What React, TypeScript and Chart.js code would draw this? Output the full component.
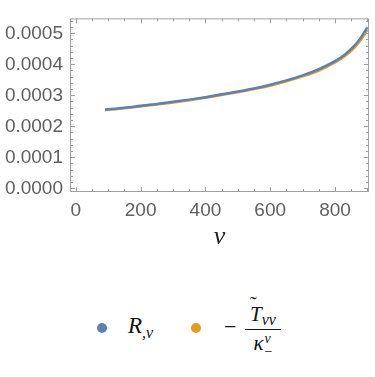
import React, { useEffect, useRef } from "react";
import { Chart, registerables } from "chart.js";
Chart.register(...registerables);

const vValues = [90, 150, 200, 250, 300, 350, 400, 450, 500, 550, 600, 650, 700, 750, 800, 830, 860, 880, 900];
const rValues = [0.000254, 0.00026, 0.000266, 0.000272, 0.000279, 0.000286, 0.000294, 0.000303, 0.000312, 0.000322, 0.000334, 0.000348, 0.000364, 0.000384, 0.00041, 0.000431, 0.00046, 0.000486, 0.00052];
const tValues = [0.000252, 0.000258, 0.000264, 0.00027, 0.000277, 0.000284, 0.000292, 0.000301, 0.00031, 0.00032, 0.000331, 0.000345, 0.000361, 0.00038, 0.000406, 0.000426, 0.000454, 0.000479, 0.000511];
const xTickStep = 200;
const xMinorStep = 50;
const yTickStep = 0.0001;
const yMinorStep = 0.00002;

const BLUE = "#5E81B5";
const ORANGE = "#E19C24";
const FRAME = "#a0a0a0";
const TEXT = "#606060";

const framePlugin = {
  id: "frame",
  afterDraw(chart: any) {
    const { ctx, chartArea } = chart;
    const { left, right, top, bottom } = chartArea;
    const xs = chart.scales.x;
    const ys = chart.scales.y;
    ctx.save();
    ctx.strokeStyle = FRAME;
    ctx.lineWidth = 1;
    ctx.strokeRect(left + 0.5, top + 0.5, right - left - 1, bottom - top - 1);
    ctx.beginPath();
    const startX = Math.ceil(xs.min / xMinorStep) * xMinorStep;
    for (let v = startX; v <= xs.max; v += xMinorStep) {
      const px = Math.round(xs.getPixelForValue(v)) + 0.5;
      const major = Math.abs(v % xTickStep) < 1e-9;
      const len = major ? 5 : 3;
      ctx.moveTo(px, bottom);
      ctx.lineTo(px, bottom - len);
      ctx.moveTo(px, top);
      ctx.lineTo(px, top + len);
    }
    const startY = Math.ceil(ys.min / yMinorStep - 1e-9) * yMinorStep;
    for (let i = 0; ; i++) {
      const v = startY + i * yMinorStep;
      if (v > ys.max) break;
      const py = Math.round(ys.getPixelForValue(v)) + 0.5;
      const ratio = v / yTickStep;
      const major = Math.abs(ratio - Math.round(ratio)) < 1e-6;
      const len = major ? 5 : 3;
      ctx.moveTo(left, py);
      ctx.lineTo(left + len, py);
      ctx.moveTo(right, py);
      ctx.lineTo(right - len, py);
    }
    ctx.stroke();
    ctx.restore();
  },
};

export default function App() {
  const ref = useRef<HTMLCanvasElement>(null);
  useEffect(() => {
    if (!ref.current) return;
    const chart = new Chart(ref.current, {
      type: "line",
      data: {
        datasets: [
          {
            label: "R",
            data: vValues.map((v, i) => ({ x: v, y: rValues[i] })),
            borderColor: BLUE,
            borderWidth: 2.5,
            pointRadius: 0,
            cubicInterpolationMode: "monotone",
          },
          {
            label: "T",
            data: vValues.map((v, i) => ({ x: v, y: tValues[i] })),
            borderColor: ORANGE,
            borderWidth: 2.5,
            pointRadius: 0,
            cubicInterpolationMode: "monotone",
          },
        ],
      },
      options: {
        animation: false,
        responsive: false,
        maintainAspectRatio: false,
        layout: { padding: { top: 4, right: 6, left: 0, bottom: 0 } },
        plugins: { legend: { display: false }, tooltip: { enabled: false } },
        scales: {
          x: {
            type: "linear",
            min: -18,
            max: 905,
            grid: { drawOnChartArea: false, drawTicks: false },
            border: { display: false },
            ticks: {
              stepSize: xTickStep,
              includeBounds: false,
              maxRotation: 0,
              padding: 7,
              color: TEXT,
              font: { size: 19, family: "'Liberation Sans', Arial, sans-serif" },
              callback: (v: any) => String(Math.round(Number(v))),
            },
            title: {
              display: true,
              text: "v",
              color: "#222",
              font: { size: 26, family: "'Liberation Serif', serif", style: "italic" },
              padding: { top: 0, bottom: 9 },
            },
            afterFit: (s: any) => {
              s.height = 70;
            },
          },
          y: {
            type: "linear",
            min: -0.000012,
            max: 0.000548,
            grid: { drawOnChartArea: false, drawTicks: false },
            border: { display: false },
            ticks: {
              stepSize: yTickStep,
              includeBounds: false,
              padding: 7,
              color: TEXT,
              font: { size: 19, family: "'Liberation Sans', Arial, sans-serif" },
              callback: (v: any) => Number(v).toFixed(4),
            },
            afterFit: (s: any) => {
              s.width = 70;
            },
          },
        },
      },
      plugins: [framePlugin],
    } as any);
    return () => chart.destroy();
  }, []);

  const serif = "'Liberation Serif', 'DejaVu Serif', serif";
  const dot = (c: string, x: number) => (
    <div
      style={{
        position: "absolute",
        left: x - 5,
        top: 323,
        width: 10,
        height: 10,
        borderRadius: "50%",
        background: c,
      }}
    />
  );

  return (
    <div style={{ position: "fixed", left: 0, top: 0, width: 375, height: 377, background: "#fff", overflow: "hidden" }}>
      <canvas ref={ref} width={375} height={262} style={{ display: "block", width: 375, height: 262 }} />
      {dot(BLUE, 102)}
      <div style={{ position: "absolute", left: 128, top: 313, fontFamily: serif, fontSize: 23, fontStyle: "italic", color: "#111", lineHeight: "26px", whiteSpace: "nowrap" }}>
        R<span style={{ fontSize: 16, position: "relative", top: 5 }}>,v</span>
      </div>
      {dot(ORANGE, 196)}
      <div style={{ position: "absolute", left: 224, top: 314, fontFamily: serif, fontSize: 22, color: "#111", lineHeight: "26px" }}>
        −
      </div>
      <div
        style={{
          position: "absolute",
          left: 244,
          top: 302,
          width: 38,
          display: "flex",
          flexDirection: "column",
          alignItems: "center",
          fontFamily: serif,
          fontStyle: "italic",
          color: "#111",
        }}
      >
        <div style={{ fontSize: 21, lineHeight: "24px", whiteSpace: "nowrap", position: "relative" }}>
          <span style={{ position: "relative", display: "inline-block" }}>
            T
            <span style={{ position: "absolute", left: 0, top: -7, fontStyle: "normal", fontSize: 20, lineHeight: "18px" }}>˜</span>
          </span>
          <span style={{ fontSize: 16, position: "relative", top: 4 }}>vv</span>
        </div>
        <div style={{ width: 36, height: 1, background: "#111", marginTop: 1 }} />
        <div style={{ fontSize: 21, lineHeight: "26px", whiteSpace: "nowrap" }}>
          κ
          <span style={{ display: "inline-flex", flexDirection: "column", verticalAlign: "middle", fontSize: 14, lineHeight: "13px", marginLeft: 1 }}>
            <span>v</span>
            <span style={{ fontStyle: "normal" }}>−</span>
          </span>
        </div>
      </div>
    </div>
  );
}
